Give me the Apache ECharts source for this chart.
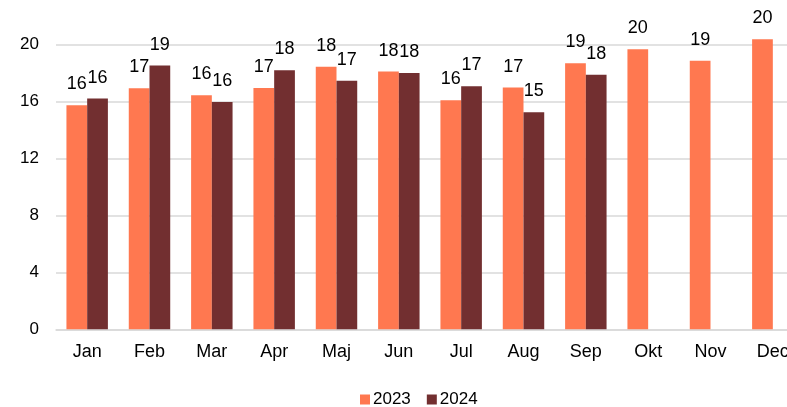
<!DOCTYPE html>
<html>
<head>
<meta charset="utf-8">
<style>
  html, body { margin: 0; padding: 0; background: #fff; overflow: hidden; }
  /* the plot runs slightly past the right edge of the window, so December is cut */
  #chart { width: 804px; height: 407px; }
</style>
<script src="https://cdn.jsdelivr.net/npm/echarts@6/dist/echarts.min.js"></script>
</head>
<body>
<div id="chart"></div>
<script>
// Monthly values for two years
const months = ['Jan', 'Feb', 'Mar', 'Apr', 'Maj', 'Jun', 'Jul', 'Aug', 'Sep', 'Okt', 'Nov', 'Dec'];
const values2023 = [15.75, 16.95, 16.45, 16.97, 18.45, 18.12, 16.1, 16.99, 18.7, 19.69, 18.87, 20.39];
const values2024 = [16.22, 18.54, 15.98, 18.21, 17.48, 18.02, 17.09, 15.26, 17.9, null, null, null];
const yTicks = [0, 4, 8, 12, 16, 20];

const FONT = 'Liberation Sans, Arial, sans-serif';

function barSeries(name, data, color) {
  return {
    name: name,
    type: 'bar',
    data: data,
    clip: false,
    barGap: '0%',
    barCategoryGap: '33.5%',
    itemStyle: { color: color },
    label: {
      show: true,
      position: 'top',
      distance: 12,
      fontFamily: FONT,
      fontSize: 18,
      color: '#000',
      formatter: p => (p.value == null ? '' : String(Math.round(p.value)))
    }
  };
}

const chart = echarts.init(document.getElementById('chart'), null, { renderer: 'canvas' });
chart.setOption({
  animation: false,
  backgroundColor: '#fff',
  grid: { left: 56, right: 0, top: 44.8, bottom: 77.7, containLabel: false },
  legend: {
    left: 355,
    top: 386,
    itemWidth: 10,
    itemHeight: 10,
    itemGap: 16,
    icon: 'rect',
    textStyle: { fontFamily: FONT, fontSize: 17, color: '#000', padding: [0, 0, 0, -2] },
    data: ['2023', '2024']
  },
  xAxis: {
    type: 'category',
    data: months,
    axisLine: { show: true, lineStyle: { color: '#D9D9D9', width: 1.5 } },
    axisTick: { show: false },
    axisLabel: { fontFamily: FONT, fontSize: 18, color: '#000', margin: 14, interval: 0 }
  },
  yAxis: {
    type: 'value',
    min: yTicks[0],
    max: yTicks[yTicks.length - 1],
    interval: yTicks[1] - yTicks[0],
    axisLine: { show: false },
    axisTick: { show: false },
    splitLine: { lineStyle: { color: '#D9D9D9', width: 1.5 } },
    axisLabel: { fontFamily: FONT, fontSize: 17, color: '#000', margin: 17 }
  },
  series: [
    barSeries('2023', values2023, '#FF7850'),
    barSeries('2024', values2024, '#722F30')
  ]
});
</script>
</body>
</html>
